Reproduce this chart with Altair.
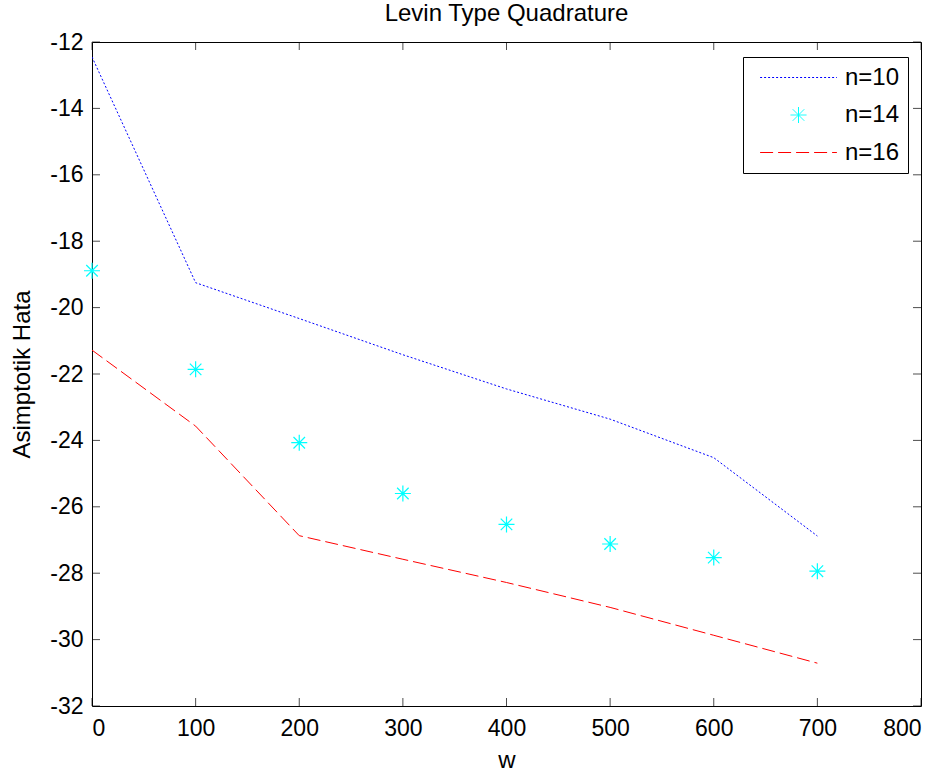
import altair as alt
import pandas as pd

# ---- data ----
w_vals = [0, 100, 200, 300, 400, 500, 600, 700]
n10 = [-12.45, -19.25, -20.33, -21.42, -22.45, -23.36, -24.52, -26.88]
n14 = [-18.89, -21.86, -24.07, -25.60, -26.53, -27.12, -27.53, -27.94]
n16 = [-21.28, -23.57, -26.87, -27.58, -28.28, -29.03, -29.87, -30.71]

series = ["n=10", "n=14", "n=16"]
colors = ["#0000FF", "#00FFFF", "#FF0000"]
dashes = [[2, 2], [1, 0], [13, 5]]
line_path = "M-4.8,0L4.8,0"
star_path = "M-1,0L1,0M0,-1L0,1M-0.72,-0.72L0.72,0.72M-0.72,0.72L0.72,-0.72"
shapes = [line_path, star_path, line_path]

x_ticks = list(range(0, 801, 100))
y_ticks = list(range(-32, -11, 2))

W, H = 829, 664
FONT = "Liberation Sans"
TICK_FS = 23
TITLE_FS = 24

rows = []
for name, vals in zip(series, [n10, n14, n16]):
    for w, v in zip(w_vals, vals):
        rows.append({"w": w, "val": v, "series": name})
df = pd.DataFrame(rows)

xscale = alt.Scale(domain=[0, 800], nice=False, zero=False)
yscale = alt.Scale(domain=[-32, -12], nice=False, zero=False)

xaxis = alt.Axis(values=x_ticks, title="w", ticks=False, domain=False, grid=False,
                 labelExpr="'' + datum.value",
                 labelFontSize=TICK_FS, titleFontSize=TITLE_FS, labelFont=FONT, titleFont=FONT,
                 labelColor="black", titleColor="black", titleFontWeight="normal",
                 labelPadding=11, titlePadding=8)
yaxis = alt.Axis(values=y_ticks, title="Asimptotik Hata", ticks=False, domain=False, grid=False,
                 labelExpr="'' + datum.value",
                 labelFontSize=TICK_FS, titleFontSize=TITLE_FS, labelFont=FONT, titleFont=FONT,
                 labelColor="black", titleColor="black", titleFontWeight="normal",
                 labelPadding=9, titlePadding=15)

legend = alt.Legend(title=None, orient="none", legendX=651, legendY=15,
                    fillColor="white", strokeColor="black", padding=8.5,
                    labelFontSize=TITLE_FS, labelFont=FONT, labelColor="black",
                    symbolSize=256, symbolStrokeWidth=1, symbolOffset=35,
                    labelOffset=34.5, rowPadding=13.5)

color = alt.Color("series:N", scale=alt.Scale(domain=series, range=colors), legend=legend)
dash = alt.StrokeDash("series:N", scale=alt.Scale(domain=series, range=dashes), legend=legend)
shape = alt.Shape("series:N", scale=alt.Scale(domain=series, range=shapes), legend=legend)

base = alt.Chart(df)
lines = base.transform_filter(alt.datum.series != "n=14").mark_line(strokeWidth=1, clip=True).encode(
    x=alt.X("w:Q", scale=xscale, axis=xaxis),
    y=alt.Y("val:Q", scale=yscale, axis=yaxis),
    color=color, strokeDash=dash,
)
points = base.transform_filter(alt.datum.series == "n=14").mark_point(
    filled=False, size=256, strokeWidth=1.2, opacity=1).encode(
    x=alt.X("w:Q", scale=xscale),
    y=alt.Y("val:Q", scale=yscale),
    color=color, shape=shape,
)

xt = pd.DataFrame({"t": x_ticks})
yt = pd.DataFrame({"t": y_ticks})
tick_bottom = alt.Chart(xt).mark_tick(orient="vertical", size=8, thickness=1, color="black", yOffset=-4).encode(
    x=alt.X("t:Q", scale=xscale), y=alt.value(H))
tick_top = alt.Chart(xt).mark_tick(orient="vertical", size=8, thickness=1, color="black", yOffset=4).encode(
    x=alt.X("t:Q", scale=xscale), y=alt.value(0))
tick_left = alt.Chart(yt).mark_tick(orient="horizontal", size=8, thickness=1, color="black", xOffset=4).encode(
    y=alt.Y("t:Q", scale=yscale), x=alt.value(0))
tick_right = alt.Chart(yt).mark_tick(orient="horizontal", size=8, thickness=1, color="black", xOffset=-4).encode(
    y=alt.Y("t:Q", scale=yscale), x=alt.value(W))

chart = alt.layer(tick_bottom, tick_top, tick_left, tick_right, lines, points).properties(
    width=W, height=H,
    title=alt.Title("Levin Type Quadrature", font=FONT, fontSize=TITLE_FS, fontWeight="normal",
                    color="black", offset=5),
    autosize=alt.AutoSizeParams(type="none"),
    padding={"left": 92, "top": 42, "right": 25, "bottom": 69},
    background="white",
).configure_view(stroke="black", strokeWidth=1)

chart.save("out.html", embed_options={"renderer": "svg", "actions": False})
